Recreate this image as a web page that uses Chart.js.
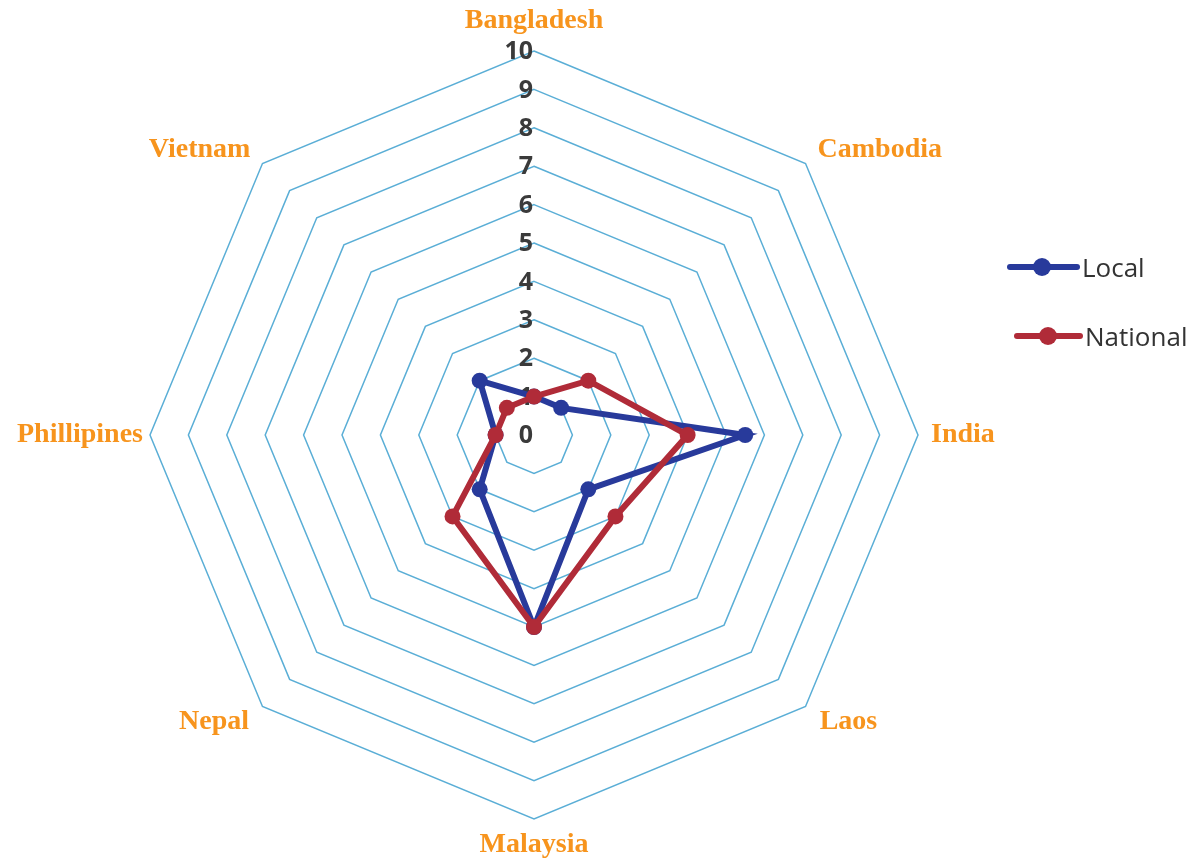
<!DOCTYPE html>
<html>
<head>
<meta charset="utf-8">
<script src="https://cdn.jsdelivr.net/npm/chart.js@4.4.0/dist/chart.umd.min.js"></script>
<style>
  html, body { margin: 0; padding: 0; background: #fff; }
  #wrap { position: relative; width: 1195px; height: 863px; overflow: hidden; }
  /* canvas is a bit wider than the page and shifted left, so the web sits where the original has it */
  #chart { position: absolute; left: -31px; top: 0; }
  .legend-item { position: absolute; height: 36px; }
  .legend-line { position: absolute; top: 15px; height: 6px; border-radius: 3px; }
  .legend-dot { position: absolute; top: 9px; width: 18px; height: 18px; border-radius: 50%; }
  .legend-text { position: absolute; top: 0; font-family: "Open Sans", sans-serif; font-size: 26px; line-height: 36px; color: #333; white-space: nowrap; }
</style>
</head>
<body>
<div id="wrap">
  <canvas id="chart" width="1130" height="863"></canvas>
  <div id="legend"></div>
</div>
<script>
const countries = ['Bangladesh', 'Cambodia', 'India', 'Laos', 'Malaysia', 'Nepal', 'Phillipines', 'Vietnam'];
const localScores = [1, 1, 5.5, 2, 5, 2, 1, 2];
const nationalScores = [1, 2, 4, 3, 5, 3, 1, 1];
const seriesNames = ['Local', 'National'];
const seriesColors = ['#283a9b', '#b02b38'];
const tickValues = [0, 1, 2, 3, 4, 5, 6, 7, 8, 9, 10];

// padding and line height per label, so each one sits where the original has it
// (diagonal labels get a tiny line height so they sit level with their corner)
const labelPadding = [13, 17, 13, 20, 14, 19, 7, 17];
const labelLineHeight = [1.214, 0.1, 1, 0.1, 0.857, 0.1, 1, 0.1];

// value labels are drawn a bit left of the axis, like the original
const tickLabels = {
    id: 'tickLabels',
    beforeDatasetsDraw(chart) {
        const scale = chart.scales.r;
        const ctx = chart.ctx;
        ctx.save();
        ctx.font = 'bold 25px "Open Sans", sans-serif';
        ctx.fillStyle = '#3a3a3a';
        ctx.textAlign = 'right';
        ctx.textBaseline = 'middle';
        tickValues.forEach(v => {
            const y = scale.yCenter - scale.getDistanceFromCenterForValue(v);
            ctx.fillText(String(v), scale.xCenter - 1, y + 1);
        });
        ctx.restore();
    }
};

const chart = new Chart(document.getElementById('chart'), {
    type: 'radar',
    data: {
        labels: countries,
        datasets: [
            {
                label: seriesNames[0],
                data: localScores,
                borderColor: seriesColors[0],
                backgroundColor: seriesColors[0],
                pointBackgroundColor: seriesColors[0],
                borderWidth: 6,
                pointRadius: 8,
                pointBorderWidth: 0,
                fill: false,
                order: 1
            },
            {
                label: seriesNames[1],
                data: nationalScores,
                borderColor: seriesColors[1],
                backgroundColor: seriesColors[1],
                pointBackgroundColor: seriesColors[1],
                borderWidth: 6,
                pointRadius: 8,
                pointBorderWidth: 0,
                fill: false,
                order: 0
            }
        ]
    },
    options: {
        responsive: false,
        animation: false,
        layout: { padding: 0 },
        plugins: {
            legend: { display: false },
            tooltip: { enabled: false }
        },
        elements: {
            line: { tension: 0 }
        },
        scales: {
            r: {
                min: 0,
                max: 10,
                ticks: { stepSize: 1, display: false },
                angleLines: { display: false },
                grid: { color: '#5aaed6', lineWidth: 1.5, circular: false },
                pointLabels: {
                    color: '#f7941d',
                    font: ctx => ({
                        family: '"Liberation Serif", serif',
                        size: 28,
                        weight: 'bold',
                        lineHeight: labelLineHeight[ctx.index]
                    }),
                    padding: ctx => labelPadding[ctx.index]
                }
            }
        }
    },
    plugins: [tickLabels]
});

// legend drawn as html, sitting to the right of the chart
const legendSpots = [
    { left: 1007, top: 249, line: 73, dot: 35, text: 75 },
    { left: 1014, top: 318, line: 69, dot: 34, text: 71 }
];
const legend = document.getElementById('legend');
seriesNames.forEach((name, i) => {
    const spot = legendSpots[i];
    const item = document.createElement('div');
    item.className = 'legend-item';
    item.style.left = spot.left + 'px';
    item.style.top = spot.top + 'px';
    item.innerHTML = `
        <div class="legend-line" style="left:0;width:${spot.line}px;background:${seriesColors[i]}"></div>
        <div class="legend-dot" style="left:${spot.dot - 9}px;background:${seriesColors[i]}"></div>
        <div class="legend-text" style="left:${spot.text}px">${name}</div>
    `;
    legend.appendChild(item);
});
</script>
</body>
</html>
